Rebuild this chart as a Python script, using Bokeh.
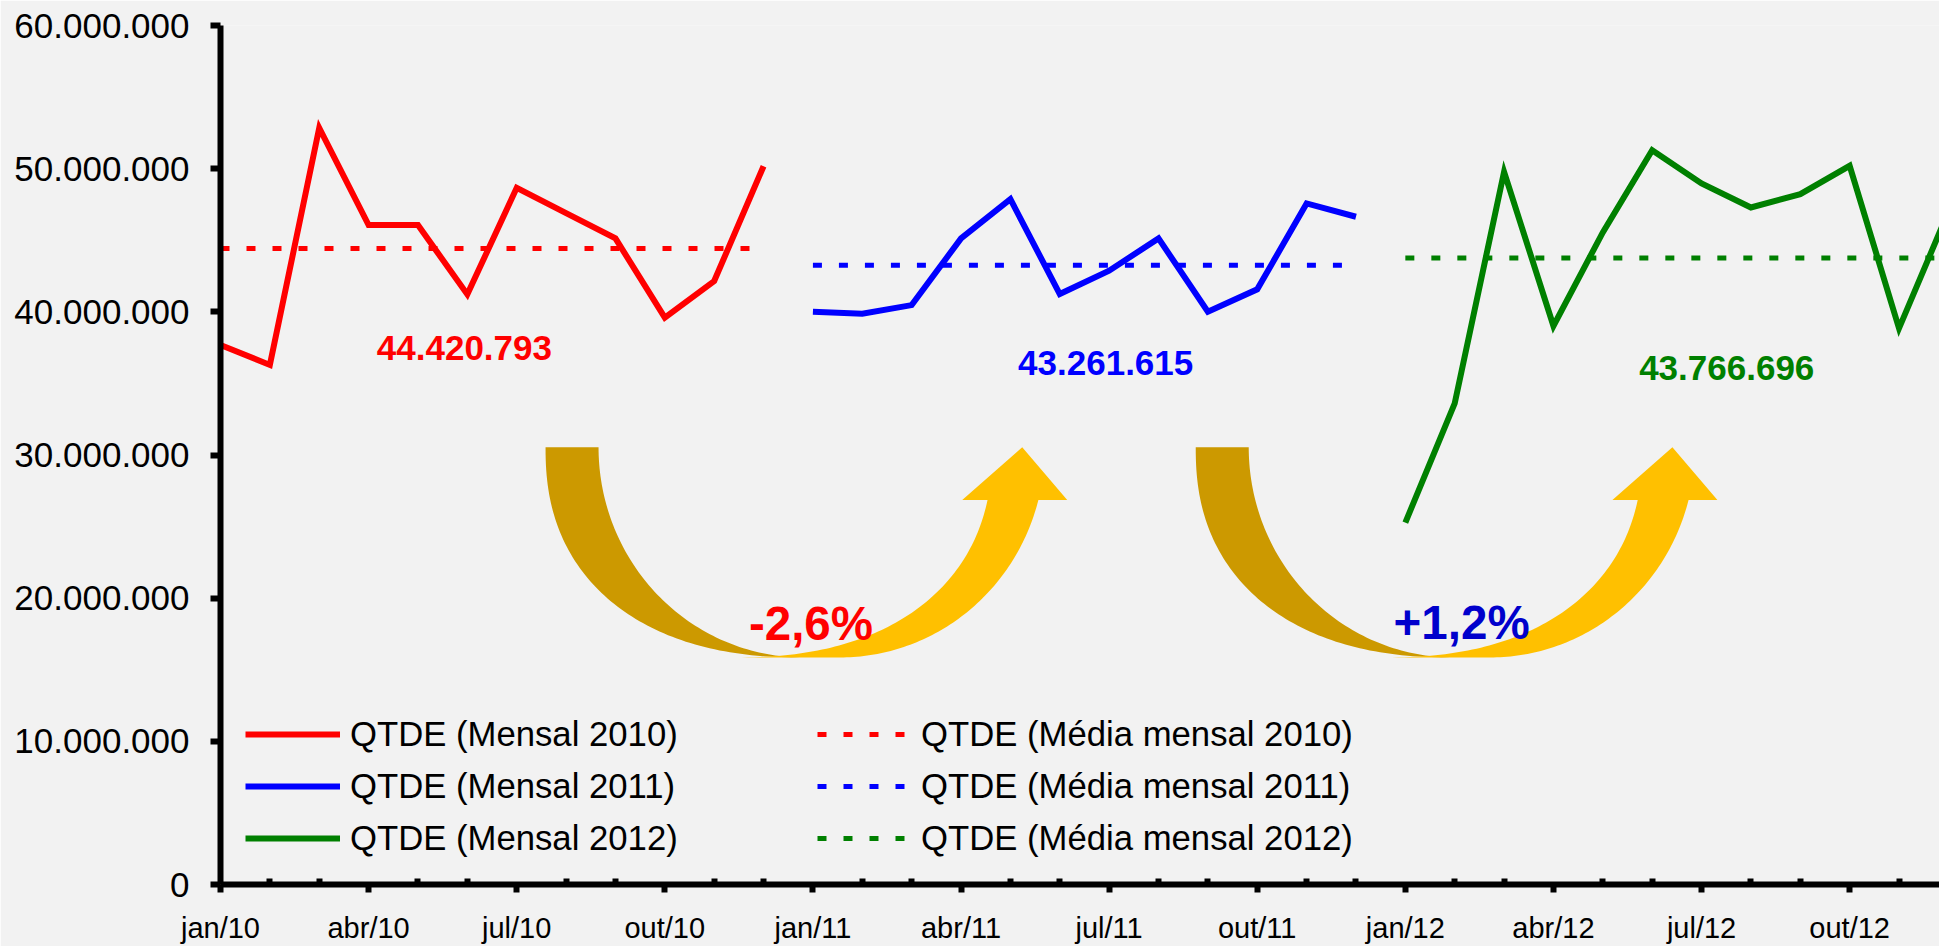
import numpy as np
from bokeh.plotting import figure
from bokeh.models import FixedTicker, Legend, LegendItem
from bokeh.core.properties import value
from bokeh.embed import file_html
from bokeh.resources import INLINE

# ---------------- data ----------------
anos = ["2010", "2011", "2012"]
qtde_2010 = [37680000, 36290000, 52850000, 46060000, 46060000, 41220000,
             48660000, 46900000, 45130000, 39590000, 42150000, 50170000]
qtde_2011 = [40010000, 39870000, 40470000, 45130000, 47870000, 41240000,
             42870000, 45130000, 40010000, 41570000, 47570000, 46640000]
qtde_2012 = [25280000, 33600000, 49780000, 39010000, 45550000, 51290000,
             48970000, 47290000, 48220000, 50200000, 38850000, 47000000]
media_mensal = [44420793, 43261615, 43766696]
media_labels = ["44.420.793", "43.261.615", "43.766.696"]
variacao_labels = ["-2,6%", "+1,2%"]
serie_nomes = ["QTDE (Mensal 2010)", "QTDE (Mensal 2011)", "QTDE (Mensal 2012)"]
media_nomes = ["QTDE (Média mensal 2010)", "QTDE (Média mensal 2011)", "QTDE (Média mensal 2012)"]
x_tick_labels = ["jan/10", "abr/10", "jul/10", "out/10", "jan/11", "abr/11",
                 "jul/11", "out/11", "jan/12", "abr/12", "jul/12", "out/12"]
y_ticks = [0, 10000000, 20000000, 30000000, 40000000, 50000000, 60000000]
y_tick_labels = ["0", "10.000.000", "20.000.000", "30.000.000",
                 "40.000.000", "50.000.000", "60.000.000"]

# ---------------- styles ----------------
FONT = "Liberation Sans"
BG = "#F2F2F2"
cores = ["#FF0000", "#0000FF", "#008000"]
cores_var = ["#FF0000", "#0000CC"]
ARROW_DARK = "#CC9900"
ARROW_LIGHT = "#FFC000"

PX_PER_MONTH = 49.37
PX_PER_UNIT = 14.333e-6

p = figure(width=1939, height=946, x_range=(0, 34.82), y_range=(0, 60000000),
           output_backend="svg", toolbar_location=None,
           min_border_left=220, min_border_right=0, min_border_top=25, min_border_bottom=61,
           background_fill_color=BG, border_fill_color=BG, outline_line_color=None)
p.xgrid.visible = False
p.ygrid.visible = False

# axes
xa = p.xaxis[0]
xa.ticker = FixedTicker(ticks=[3 * i for i in range(len(x_tick_labels))],
                        minor_ticks=[i for i in range(36) if i % 3])
xa.major_label_overrides = {3 * i: l for i, l in enumerate(x_tick_labels)}
xa.axis_line_width = 6
xa.axis_line_color = "black"
xa.major_tick_in = 0
xa.major_tick_out = 8
xa.major_tick_line_width = 6
xa.minor_tick_in = 6
xa.minor_tick_out = 0
xa.minor_tick_line_width = 6
xa.major_label_text_font = FONT
xa.major_label_text_font_size = "29px"
xa.major_label_text_color = "black"
xa.major_label_standoff = 19

ya = p.yaxis[0]
ya.ticker = FixedTicker(ticks=y_ticks)
ya.major_label_overrides = {t: l for t, l in zip(y_ticks, y_tick_labels)}
ya.axis_line_width = 6
ya.axis_line_color = "black"
ya.major_tick_in = 0
ya.major_tick_out = 10
ya.major_tick_line_width = 6
ya.minor_tick_line_color = None
ya.major_label_text_font = FONT
ya.major_label_text_font_size = "35px"
ya.major_label_text_color = "black"
ya.major_label_standoff = 21


# ---------------- curved arrows (decoration) ----------------
def arc(a, b, n, t0=0.0, N=80):
    t = np.linspace(t0, np.pi / 2, N)
    return a * np.cos(t) ** (2.0 / n), b * np.sin(t) ** (2.0 / n)


def add_arrow(bx, by):
    b = 210.4          # vertical extent of the U (px)
    head = 52.7        # arrow head length (px)
    # back (dark) part
    xo, yo = arc(258, b, 2.3)
    xi, yi = arc(205, b, 2.0)
    dx = np.concatenate([-xo, -xi[::-1]])
    dy = np.concatenate([-b + yo, (-b + yi)[::-1]])
    p.patch(bx + dx / PX_PER_MONTH, by - dy / PX_PER_UNIT,
            fill_color=ARROW_DARK, line_color=None)
    # front (light) part
    t0i = np.arcsin((head / b) ** (2.3 / 2))
    t0o = np.arcsin(head / b)
    xi2, yi2 = arc(258, b, 2.3, t0i)
    xo2, yo2 = arc(205, b, 2.0, t0o)
    inner_x = (-69.3 + xi2)[::-1]
    inner_y = (-b + yi2)[::-1]
    outer_x = 36.4 + xo2
    outer_y = -b + yo2
    hx = np.array([158.7, 218.7, 263.7])
    hy = np.array([-b + head, -b, -b + head])
    dx = np.concatenate([inner_x, hx, outer_x])
    dy = np.concatenate([inner_y, hy, outer_y])
    p.patch(bx + dx / PX_PER_MONTH, by - dy / PX_PER_UNIT,
            fill_color=ARROW_LIGHT, line_color=None)


arrow_x = [11.81, 24.98]
arrow_y = [15860000, 15860000]
for ax_, ay_ in zip(arrow_x, arrow_y):
    add_arrow(ax_, ay_)

# ---------------- series ----------------
series = [qtde_2010, qtde_2011, qtde_2012]
linhas, medias = [], []
for k, vals in enumerate(series):
    xs = [12 * k + m for m in range(len(vals))]
    linhas.append(p.line(xs, vals, line_color=cores[k], line_width=6, line_join="miter"))
for k, m in enumerate(media_mensal):
    xs = [12 * k, 12 * k + 11]
    medias.append(p.line(xs, [m, m], line_color=cores[k], line_width=5,
                         line_dash="9 17", line_cap="butt"))

# labels
media_lx = [4.94, 17.93, 30.51]
media_ly = [37490000, 36440000, 36090000]
p.text(x=media_lx, y=media_ly, text=media_labels, text_color=cores,
       text_font=value(FONT), text_font_style="bold", text_font_size="35px",
       text_align="center", text_baseline="alphabetic")

var_lx = [11.96, 25.14]
var_ly = [18260000, 18320000]
p.text(x=var_lx, y=var_ly, text=variacao_labels, text_color=cores_var,
       text_font=value(FONT), text_font_style="bold", text_font_size="47.5px",
       text_align="center", text_baseline="alphabetic")

# ---------------- legends ----------------
common = dict(glyph_height=40, label_height=40, spacing=12, padding=0, margin=0,
              border_line_color=None, background_fill_alpha=0,
              label_text_font=FONT, label_text_font_size="34.7px", label_text_color="black")
leg1 = Legend(items=[LegendItem(label=n, renderers=[r]) for n, r in zip(serie_nomes, linhas)],
              location=(25, 26), glyph_width=95, label_standoff=10, **common)
leg2 = Legend(items=[LegendItem(label=n, renderers=[r]) for n, r in zip(media_nomes, medias)],
              location=(597, 26), glyph_width=90, label_standoff=14, **common)
p.add_layout(leg1)
p.add_layout(leg2)

open("out.html", "w", encoding="utf-8").write(file_html(p, INLINE))
